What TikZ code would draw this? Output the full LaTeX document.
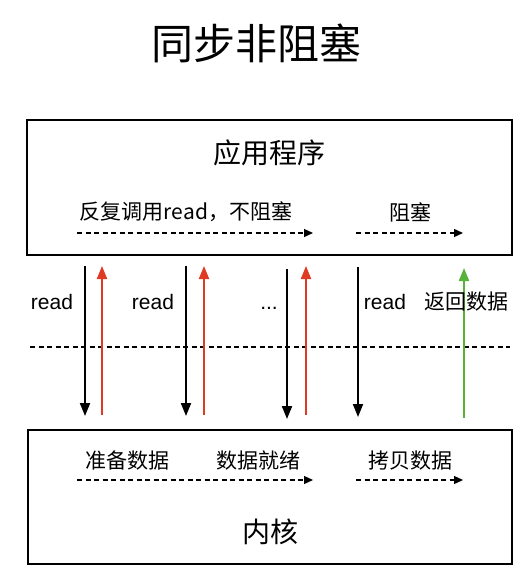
\documentclass[tikz,border=0pt]{standalone}
\usepackage{fontspec}
\setmainfont{Noto Sans CJK SC}
\newfontfamily\latinsans{Liberation Sans}
\usetikzlibrary{arrows.meta}
\definecolor{callred}{RGB}{222,58,36}
\definecolor{retgreen}{RGB}{88,178,58}
\begin{document}
\begin{tikzpicture}[x=1pt,y=-1pt,
  layer/.style={draw=black,line width=2pt},
  label/.style={inner sep=0pt,font=\fontsize{21}{24}\selectfont},
  latin/.style={inner sep=0pt,font=\latinsans\fontsize{21}{24}\selectfont},
  big/.style={inner sep=0pt,font=\fontsize{28}{32}\selectfont},
  flow/.style={line width=1.3pt,dash pattern=on 5pt off 3.5pt,-{Triangle[width=8pt,length=9pt]}},
  call/.style={line width=2pt,-{Triangle[width=10pt,length=13pt]}},
  ret/.style={line width=2pt,-{Triangle[width=10pt,length=13pt]}}]
\useasboundingbox (0,0) rectangle (529,569);

% title
\node[inner sep=0pt,font=\fontsize{42}{46}\selectfont] (title) at (256,43) {同步非阻塞};

% application and kernel layers
\draw[layer] (27,120) rectangle (512,255);
\node[big] (app) at (269,153) {应用程序};
\draw[layer] (28,430) rectangle (512,564);
\node[big] (kernel) at (270,532) {内核};

% application timeline
\node[label] (poll) at (186,212) {反复调用read，不阻塞};
\node[label] (block) at (410,212) {阻塞};
\coordinate (a0) at (77,233);
\coordinate (a1) at (313,233);
\coordinate (a2) at (356,233);
\coordinate (a3) at (463,233);
\draw[flow] (a0) -- (a1);
\draw[flow] (a2) -- (a3);

% kernel timeline
\node[label] (prep) at (127,461) {准备数据};
\node[label] (ready) at (258,461) {数据就绪};
\node[label] (copy) at (410,461) {拷贝数据};
\coordinate (k0) at (77,480);
\coordinate (k1) at (313,480);
\coordinate (k2) at (356,480);
\coordinate (k3) at (463,480);
\draw[flow] (k0) -- (k1);
\draw[flow] (k2) -- (k3);

% user/kernel boundary
\coordinate (b0) at (30,347);
\coordinate (b1) at (510,347);
\draw[line width=1.3pt,dash pattern=on 5pt off 3.5pt] (b0) -- (b1);

% system calls
\coordinate (c1t) at (85,266);  \coordinate (c1b) at (85,416);
\coordinate (r1b) at (102,415); \coordinate (r1t) at (102,266);
\coordinate (c2t) at (186,266); \coordinate (c2b) at (186,416);
\coordinate (r2b) at (204,415); \coordinate (r2t) at (204,266);
\coordinate (c3t) at (287,269); \coordinate (c3b) at (287,419);
\coordinate (r3b) at (306,415); \coordinate (r3t) at (306,266);
\coordinate (c4t) at (358,267); \coordinate (c4b) at (358,417);
\coordinate (gb) at (464,418);  \coordinate (gt) at (464,268);

\draw[call] (c1t) -- (c1b);
\draw[ret,draw=callred,fill=callred] (r1b) -- (r1t);
\draw[call] (c2t) -- (c2b);
\draw[ret,draw=callred,fill=callred] (r2b) -- (r2t);
\draw[call] (c3t) -- (c3b);
\draw[ret,draw=callred,fill=callred] (r3b) -- (r3t);
\draw[call] (c4t) -- (c4b);
\draw[ret,draw=retgreen,fill=retgreen] (gb) -- (gt);

\node[latin,anchor=base] (read1) at (52,309) {read};
\node[latin,anchor=base] (read2) at (153,309) {read};
\node[latin,anchor=base] (more) at (269,309) {...};
\node[latin,anchor=base] (read3) at (385,309) {read};
\node[label] (back) at (466,302) {返回数据};
\end{tikzpicture}
\end{document}
